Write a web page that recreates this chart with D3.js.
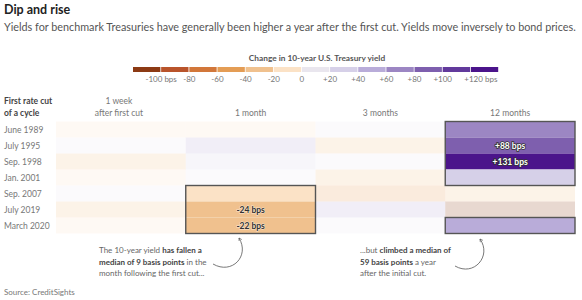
<!DOCTYPE html>
<html lang="en">
<head>
  <meta charset="UTF-8">
  <title>Dip and rise</title>
  <script src="https://d3js.org/d3.v7.min.js"></script>
  <style>
    body, html {
      margin: 0;
      padding: 0;
      background-color: #fff;
      font-family: 'Lato', sans-serif;
      overflow: hidden;
    }
    .title { font-size: 12.5px; font-weight: bold; fill: #222; }
    .subtitle { font-size: 10.8px; fill: #555; }
    .legend-title { font-size: 8.3px; font-weight: bold; fill: #555; }
    .legend-label { font-size: 8px; fill: #777; }
    .head { font-size: 8.5px; fill: #777; }
    .row-label { font-size: 8.5px; fill: #777; }
    .row-head { font-size: 8.5px; font-weight: bold; fill: #444; }
    .note { font-size: 8px; fill: #666; }
    .note tspan.b { font-weight: bold; fill: #444; }
    .source { font-size: 8px; fill: #777; }
  </style>
</head>
<body>
  <svg id="chart"></svg>

  <script>
    const width = 582;
    const height = 300;

    // first rate cut of each easing cycle (rows)
    const cycles = ["June 1989", "July 1995", "Sep. 1998", "Jan. 2001", "Sep. 2007", "July 2019", "March 2020"];
    // time after the first cut (columns)
    const horizons = ["1 week", "1 month", "3 months", "12 months"];
    const horizonLabels = [["1 week", "after first cut"], ["1 month"], ["3 months"], ["12 months"]];

    // change in 10-year yield, bps
    const week1 = [-10, 5, -30, -10, 5, -30, -10];
    const month1 = [-15, 40, 30, 10, -9, -24, -22];
    const month3 = [5, -30, 5, -30, -50, 40, 5];
    const month12 = [70, 88, 131, 30, -30, -140, 59];

    // legend bins
    const legendTicks = [-120, -100, -80, -60, -40, -20, 0, 20, 40, 60, 80, 100, 120, 140];
    const legendLabels = ["", "-100 bps", "-80", "-60", "-40", "-20", "0", "+20", "+40", "+60", "+80", "+100", "+120 bps", ""];
    const binColors = ["#8c3a14", "#b9542b", "#d2773a", "#e49d55", "#f0c18e", "#fbe2c6", "#e9e6ee",
                       "#d6d0e8", "#b9acd9", "#9c86c3", "#7e5fae", "#623a9c", "#4b148b"];

    // highlighted blocks and the cells that carry a value label
    const boxes = [
      { horizon: "1 month", from: "Sep. 2007", to: "March 2020" },
      { horizon: "12 months", from: "June 1989", to: "Jan. 2001" },
      { horizon: "12 months", from: "March 2020", to: "March 2020" }
    ];
    const labelled = [
      { horizon: "12 months", cycle: "July 1995" },
      { horizon: "12 months", cycle: "Sep. 1998" },
      { horizon: "1 month", cycle: "July 2019" },
      { horizon: "1 month", cycle: "March 2020" }
    ];

    const series = [week1, month1, month3, month12];
    const cells = [];
    horizons.forEach((h, j) => {
      cycles.forEach((c, i) => {
        cells.push({ horizon: h, cycle: c, value: series[j][i] });
      });
    });

    const isHighlighted = d => boxes.some(b =>
      b.horizon === d.horizon &&
      cycles.indexOf(d.cycle) >= cycles.indexOf(b.from) &&
      cycles.indexOf(d.cycle) <= cycles.indexOf(b.to));

    const fmt = v => (v > 0 ? "+" : "") + v + " bps";

    const svg = d3.select("#chart")
      .attr("width", width)
      .attr("height", height);

    // titles
    svg.append("text").attr("class", "title").attr("x", 4).attr("y", 14).text("Dip and rise");
    svg.append("text").attr("class", "subtitle").attr("x", 4).attr("y", 31)
      .text("Yields for benchmark Treasuries have generally been higher a year after the first cut. Yields move inversely to bond prices.");

    // legend
    const color = d3.scaleThreshold()
      .domain(legendTicks.slice(1, -1))
      .range(binColors);

    const lx = d3.scaleLinear()
      .domain([legendTicks[0], legendTicks[legendTicks.length - 1]])
      .range([133, 499]);

    svg.append("text").attr("class", "legend-title")
      .attr("x", 317).attr("y", 61).attr("text-anchor", "middle")
      .text("Change in 10-year U.S. Treasury yield");

    svg.append("g").selectAll("rect")
      .data(binColors)
      .enter().append("rect")
      .attr("x", (d, i) => lx(legendTicks[i]))
      .attr("y", 67)
      .attr("width", (d, i) => lx(legendTicks[i + 1]) - lx(legendTicks[i]) - 0.8)
      .attr("height", 5)
      .attr("fill", d => d);

    svg.append("g").selectAll("text")
      .data(legendTicks)
      .enter().append("text")
      .attr("class", "legend-label")
      .attr("x", (d, i) => i === legendTicks.length - 2 ? lx(d) + 10 : lx(d))
      .attr("y", 82)
      .attr("text-anchor", "middle")
      .text((d, i) => legendLabels[i]);

    // heatmap
    const x = d3.scaleBand().domain(horizons).range([56, 575]);
    const y = d3.scaleBand().domain(cycles).range([121.5, 233.5]);

    svg.append("text").attr("class", "row-head").attr("x", 4).attr("y", 104).text("First rate cut");
    svg.append("text").attr("class", "row-head").attr("x", 4).attr("y", 115.5).text("of a cycle");

    const heads = svg.append("g").selectAll("text")
      .data(horizons)
      .enter().append("text")
      .attr("class", "head")
      .attr("x", d => x(d) + x.bandwidth() / 2)
      .attr("text-anchor", "middle");
    heads.each(function(d, j) {
      const lines = horizonLabels[j];
      d3.select(this).selectAll("tspan")
        .data(lines)
        .enter().append("tspan")
        .attr("x", x(d) + x.bandwidth() / 2 - (lines.length > 1 ? 2 : 0))
        .attr("y", (l, k) => 115.5 - (lines.length - 1 - k) * 11.5)
        .text(l => l);
    });

    svg.append("g").selectAll("text")
      .data(cycles)
      .enter().append("text")
      .attr("class", "row-label")
      .attr("x", 4)
      .attr("y", d => y(d) + y.bandwidth() / 2 + 3.5)
      .text(d => d);

    svg.append("g").selectAll("rect")
      .data(cells)
      .enter().append("rect")
      .attr("x", d => x(d.horizon))
      .attr("y", d => y(d.cycle))
      .attr("width", x.bandwidth())
      .attr("height", y.bandwidth())
      .attr("fill", d => color(d.value))
      .attr("fill-opacity", d => isHighlighted(d) ? 1 : 0.2);

    svg.append("g").selectAll("rect")
      .data(boxes)
      .enter().append("rect")
      .attr("x", d => x(d.horizon))
      .attr("y", d => y(d.from))
      .attr("width", x.bandwidth())
      .attr("height", d => y(d.to) + y.bandwidth() - y(d.from))
      .attr("fill", "none")
      .attr("stroke", "#555")
      .attr("stroke-width", 1.4);

    svg.append("g").selectAll("text")
      .data(labelled.map(l => cells.find(c => c.horizon === l.horizon && c.cycle === l.cycle)))
      .enter().append("text")
      .attr("x", d => x(d.horizon) + x.bandwidth() / 2)
      .attr("y", d => y(d.cycle) + y.bandwidth() / 2 + 3)
      .attr("text-anchor", "middle")
      .style("font-size", "8.5px")
      .style("font-weight", "bold")
      .style("paint-order", "stroke")
      .attr("fill", d => d.value > 0 ? "#fff" : "#333")
      .attr("stroke", d => d.value > 0 ? "#333" : "#fff")
      .attr("stroke-width", d => d.value > 0 ? 1.6 : 1)
      .attr("stroke-opacity", d => d.value > 0 ? 1 : 0.6)
      .text(d => fmt(d.value));

    // annotations
    const notes = [
      { x: 99, y: 253, lines: [
        [["The 10-year yield ", ""], ["has fallen a", "b"]],
        [["median of 9 basis points", "b"], [" in the", ""]],
        [["month following the first cut...", ""]]
      ] },
      { x: 360, y: 253, lines: [
        [["...but ", ""], ["climbed a median of", "b"]],
        [["59 basis points", "b"], [" a year", ""]],
        [["after the initial cut.", ""]]
      ] }
    ];
    notes.forEach(n => {
      const t = svg.append("text").attr("class", "note");
      n.lines.forEach((parts, k) => {
        parts.forEach((p, m) => {
          const ts = t.append("tspan").attr("class", p[1]).text(p[0]);
          if (m === 0) ts.attr("x", n.x).attr("y", n.y + k * 11.5);
        });
      });
    });

    svg.append("defs").append("marker")
      .attr("id", "head")
      .attr("viewBox", "0 0 10 10")
      .attr("refX", 8).attr("refY", 5)
      .attr("markerWidth", 5).attr("markerHeight", 5)
      .attr("orient", "auto")
      .append("path")
      .attr("d", "M1,1 L8,5 L1,9")
      .attr("fill", "none")
      .attr("stroke", "#555")
      .attr("stroke-width", 1.5);

    const arrows = [
      "M213,264 C232,275 250,256 239,238",
      "M455,266 C474,277 492,256 480,239"
    ];
    svg.append("g").selectAll("path")
      .data(arrows)
      .enter().append("path")
      .attr("d", d => d)
      .attr("fill", "none")
      .attr("stroke", "#555")
      .attr("stroke-width", 0.8)
      .attr("marker-end", "url(#head)");

    svg.append("text").attr("class", "source").attr("x", 4).attr("y", 295).text("Source: CreditSights");
  </script>
</body>
</html>
